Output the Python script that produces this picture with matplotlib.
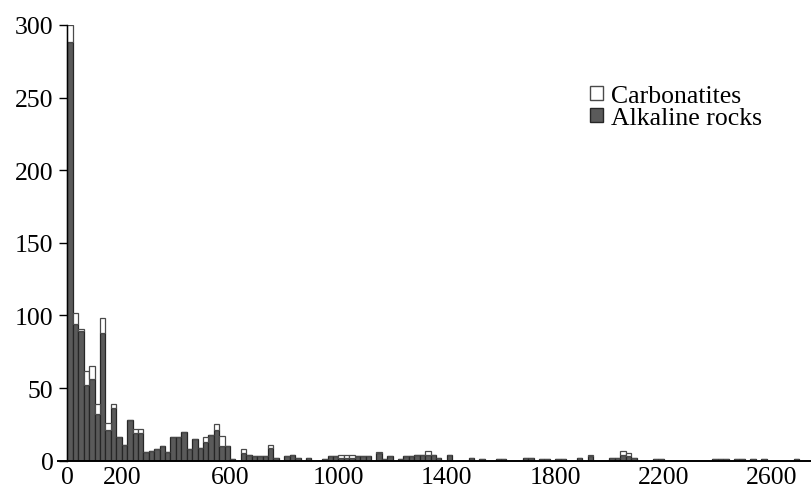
import matplotlib
matplotlib.use("Agg")
import matplotlib.pyplot as plt
from matplotlib.patches import Patch
import numpy as np

bin_width = 20
bin_starts = list(range(0, 2700, 20))

alkaline = [288, 94, 89, 52, 56, 32, 88, 21, 36, 16,
            11, 28, 19, 19, 6, 7, 8, 10, 6, 16,
            16, 20, 8, 15, 9, 13, 18, 21, 10, 10,
            1, 0, 5, 4, 3, 3, 3, 9, 2, 0,
            3, 4, 2, 0, 2, 0, 0, 1, 3, 3,
            2, 2, 2, 3, 3, 3, 0, 5, 1, 3,
            0, 1, 3, 3, 4, 4, 4, 4, 2, 0,
            4, 0, 0, 0, 2, 0, 1, 0, 0, 1,
            1, 0, 0, 0, 2, 2, 0, 1, 1, 0,
            1, 1, 0, 0, 2, 0, 3, 0, 0, 0,
            2, 2, 4, 3, 2, 0, 0, 0, 1, 1,
            0, 0, 0, 0, 0, 0, 0, 0, 0, 1,
            1, 1, 0, 1, 1, 0, 1, 0, 1, 0,
            0, 0, 0, 0, 1]

carbonatites = [12, 8, 2, 10, 9, 7, 10, 5, 3, 0,
                0, 0, 3, 3, 0, 0, 0, 0, 0, 0,
                0, 0, 0, 0, 0, 3, 0, 4, 7, 0,
                0, 0, 3, 0, 0, 0, 0, 2, 0, 0,
                0, 0, 0, 0, 0, 0, 0, 0, 0, 0,
                2, 2, 2, 0, 0, 0, 0, 1, 0, 0,
                0, 0, 0, 0, 0, 0, 3, 0, 0, 0,
                0, 0, 0, 0, 0, 0, 0, 0, 0, 0,
                0, 0, 0, 0, 0, 0, 0, 0, 0, 0,
                0, 0, 0, 0, 0, 0, 1, 0, 0, 0,
                0, 0, 3, 2, 0, 0, 0, 0, 0, 0,
                0, 0, 0, 0, 0, 0, 0, 0, 0, 0,
                0, 0, 0, 0, 0, 0, 0, 0, 0, 0,
                0, 0, 0, 0, 0]

xtick_values = [0, 200, 600, 1000, 1400, 1800, 2200, 2600]
ytick_values = [0, 50, 100, 150, 200, 250, 300]
legend_labels = ["Carbonatites", "Alkaline rocks"]

plt.rcParams['font.family'] = ['Liberation Serif', 'DejaVu Serif']

W, H = 812, 489
fig = plt.figure(figsize=(W / 100, H / 100), dpi=100)
px_per_unit = (772 - 67.5) / 2600.0
x_left = -(67.5 - 58) / px_per_unit
x_right = (812 - 67.5) / px_per_unit
ax = fig.add_axes([58 / W, (H - 461.7) / H, (812 - 58) / W, (461.7 - 26) / H])

dark = '#5a5a5a'
ax.bar(bin_starts, alkaline, width=bin_width, align='edge', color=dark,
       edgecolor='#262626', linewidth=0.9)
ax.bar(bin_starts, carbonatites, bottom=alkaline, width=bin_width, align='edge',
       color='white', edgecolor='#4a4a4a', linewidth=0.9)

ax.set_xlim(x_left, x_right)
ax.set_ylim(0, 300)
ax.spines['top'].set_visible(False)
ax.spines['right'].set_visible(False)
ax.spines['left'].set_position(('data', 0))
ax.spines['left'].set_linewidth(1.0)
ax.spines['bottom'].set_linewidth(1.4)

ax.set_xticks(xtick_values)
ax.set_xticklabels([str(v) for v in xtick_values])
ax.set_yticks(ytick_values)
ax.tick_params(axis='x', length=0, pad=3.5, labelsize=18.5)
ax.tick_params(axis='y', direction='out', length=6, width=1.0, pad=4, labelsize=18.5)

handles = [Patch(facecolor='white', edgecolor='#4a4a4a', linewidth=1.0),
           Patch(facecolor=dark, edgecolor='#262626', linewidth=1.0)]
fig.legend(handles, legend_labels, loc='upper left',
           bbox_to_anchor=(572 / W, 1 - 68 / H), frameon=False,
           fontsize=18.5, handlelength=0.5, handleheight=0.5,
           handletextpad=0.3, labelspacing=0.0, borderpad=0.2)

fig.savefig('out.png', dpi=100)
